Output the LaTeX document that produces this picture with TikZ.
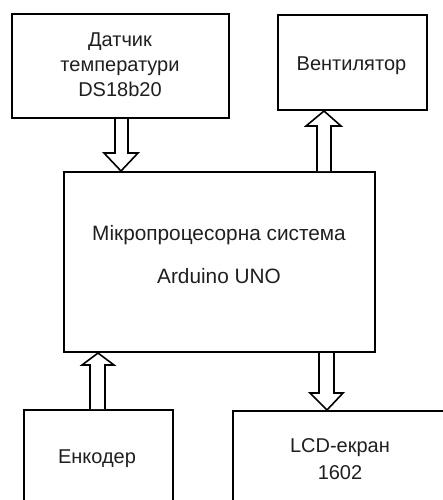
\documentclass[tikz,border=0pt]{standalone}
\usepackage{fontspec}
\setmainfont{Liberation Sans}
\usetikzlibrary{calc}
\begin{document}
\begin{tikzpicture}[x=1pt,y=-1pt,
  blk/.style={draw,line width=2pt,inner sep=0pt,anchor=north west},
  txt/.style={anchor=base,inner sep=0pt,font=\fontsize{20}{24}\selectfont,text=black!88},
  bigtxt/.style={txt,font=\fontsize{20.8}{24}\selectfont},
  fat/.style={draw,line width=1.6pt,fill=white,line join=miter}]
\useasboundingbox (0,0) rectangle (442,500);
% boxes
\node[blk,minimum width=217pt,minimum height=104pt] (sensor) at (11,13) {};
\node[blk,minimum width=149pt,minimum height=95pt] (vent) at (277,14) {};
\node[blk,minimum width=311pt,minimum height=180pt] (main) at (63,171) {};
\node[blk,minimum width=149pt,minimum height=100pt] (enc) at (23,409) {};
\node[blk,minimum width=216pt,minimum height=100pt] (lcd) at (232,410) {};
% texts
\node[txt] (s1) at (120,47) {Датчик};
\node[txt] (s2) at (120,72) {температури};
\node[txt] (s3) at (120,97) {DS18b20};
\node[txt] (v1) at (351.5,71) {Вентилятор};
\node[bigtxt] (m1) at (219,240) {Мікропроцесорна система};
\node[bigtxt] (m2) at (219,283) {Arduino UNO};
\node[txt] (e1) at (97,463) {Енкодер};
\node[txt] (l1) at (340,452) {LCD-екран};
\node[txt] (l2) at (340,479) {1602};
% arrows
\draw[fat] (115,0 |- sensor.south) -- (115,153) -- (104,153) -- (121,0 |- main.north)
  -- (138,153) -- (128,153) -- (128,0 |- sensor.south);
\draw[fat] (317,0 |- main.north) -- (317,126) -- (306,126) -- (324,0 |- vent.south)
  -- (341,126) -- (331,126) -- (331,0 |- main.north);
\draw[fat] (90,0 |- enc.north) -- (90,365) -- (82,365) -- (98,0 |- main.south)
  -- (114,365) -- (105,365) -- (105,0 |- enc.north);
\draw[fat] (319,0 |- main.south) -- (319,393) -- (310,393) -- (327,0 |- lcd.north)
  -- (343,393) -- (334,393) -- (334,0 |- main.south);
\end{tikzpicture}
\end{document}
